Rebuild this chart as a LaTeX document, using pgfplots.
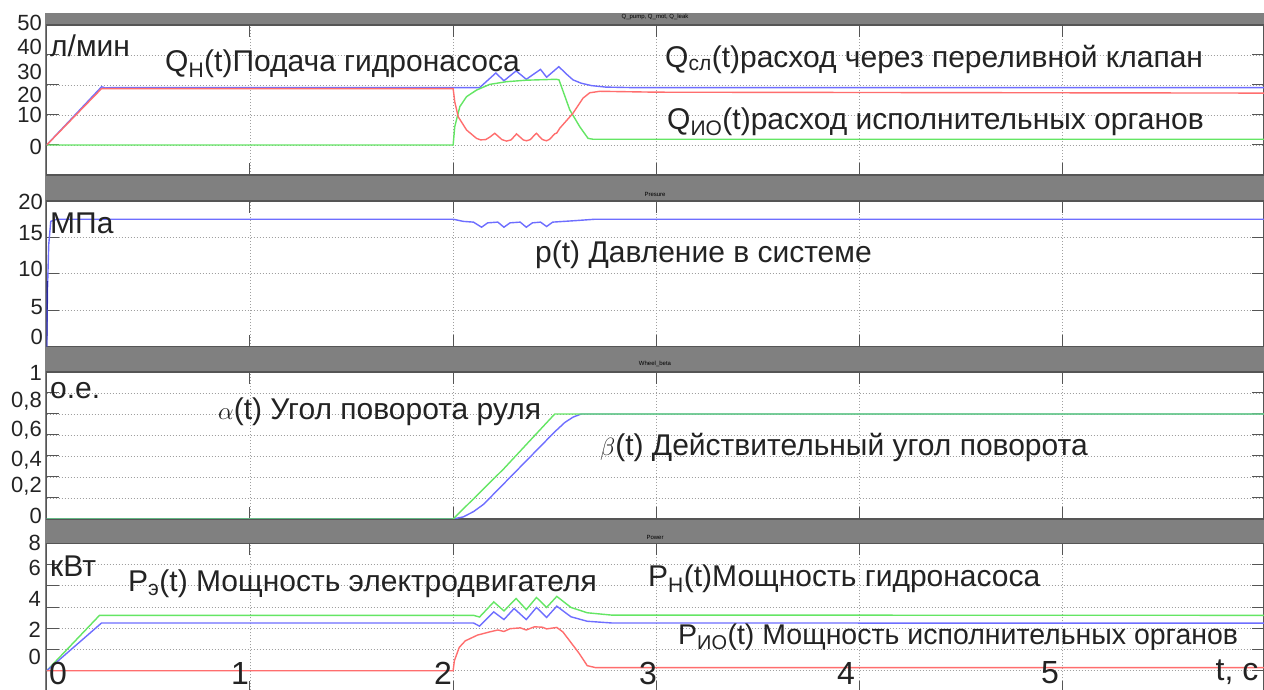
\documentclass[border=0pt]{standalone}
\usepackage{fontspec}
\setmainfont{Liberation Sans}
\usepackage{pgfplots}
\pgfplotsset{compat=1.18}
\definecolor{lblue}{RGB}{110,110,255}
\definecolor{dblue}{RGB}{40,40,160}
\definecolor{lred}{RGB}{255,110,110}
\definecolor{lgreen}{RGB}{100,230,100}
\definecolor{band}{RGB}{128,128,128}
\definecolor{txt}{RGB}{35,35,35}
\definecolor{frame}{RGB}{85,85,85}
\pgfplotsset{panel/.style={anchor=north west, scale only axis, width=1217.3pt,
  xmin=0, xmax=5.99, xtick={1,2,3,4,5}, xticklabels={}, yticklabels={},
  grid=major, grid style={gray!75, dash pattern=on 1pt off 2pt, line width=0.8pt},
  tick align=inside, major tick length=12pt, tick style={frame, line width=1pt},
  axis line style={frame, line width=1.5pt}, axis background/.style={fill=white},
  every axis plot/.append style={no marks, line width=1.4pt}}}
\newcommand{\ann}{\fontsize{30}{32}\selectfont}
\newcommand{\tl}{\fontsize{22}{23}\selectfont}
\newcommand{\xl}{\fontsize{32}{33}\selectfont}
\newcommand{\ttl}{\fontsize{6}{7}\selectfont}
\begin{document}
\begin{tikzpicture}[x=1pt,y=1pt]
\useasboundingbox (0,0) rectangle (1264,690);
\fill[band] (45,0) rectangle (1266,676.7);
% Panel 1: flows
\begin{axis}[panel, at={(46.7pt,665pt)}, height=150pt, ymin=-10, ymax=40, ytick={0,10,20,30}]
\addplot[lblue] coordinates {(0,0) (0.27,19.4) (0.29,19.0) (0.31,19.1) (2.13,19.1) (2.21,24.0) (2.25,21.4) (2.31,24.7) (2.36,21.9) (2.43,25.2) (2.46,22.6) (2.52,26.1) (2.56,23.5) (2.59,21.7) (2.63,20.6) (2.68,19.8) (2.75,19.3) (2.9,19.1) (5.99,19.1)};
\addplot[lgreen] coordinates {(0,0) (2.0,0) (2.008,6.1) (2.033,12.8) (2.066,16.1) (2.115,18.3) (2.18,20.2) (2.263,21.1) (2.361,21.6) (2.508,21.9) (2.521,21.7) (2.574,11.7) (2.623,6.1) (2.664,2.2) (2.69,1.9) (5.99,1.9)};
\addplot[lred] coordinates {(0,0) (0.27,18.8) (2.0,18.8) (2.008,14.4) (2.025,9.4) (2.066,5.0) (2.115,2.2) (2.135,1.7) (2.16,1.8) (2.18,2.6) (2.205,3.9) (2.22,3.0) (2.24,1.8) (2.263,1.3) (2.285,1.7) (2.3,2.8) (2.312,3.7) (2.33,2.6) (2.345,1.7) (2.361,1.4) (2.38,1.8) (2.395,2.9) (2.41,3.9) (2.425,2.8) (2.44,1.8) (2.459,1.4) (2.475,1.9) (2.49,3.0) (2.5,3.7) (2.51,4.0) (2.525,5.6) (2.59,10.6) (2.639,15.6) (2.672,17.4) (2.722,17.9) (3.0,17.6) (5.99,17.3)};
\end{axis}
% Panel 2: pressure
\begin{axis}[panel, at={(46.7pt,489pt)}, height=145.7pt, ymin=0, ymax=20, ytick={5,10,15}]
\addplot[lblue] coordinates {(0,0) (0.004,8) (0.01,14) (0.02,17.2) (0.05,17.5) (2.0,17.5) (2.05,17.2) (2.1,17.1) (2.14,16.4) (2.17,17.0) (2.22,17.1) (2.25,16.4) (2.28,17.0) (2.33,17.1) (2.36,16.4) (2.39,17.0) (2.43,17.1) (2.46,16.5) (2.49,17.1) (2.6,17.3) (2.7,17.5) (5.99,17.5)};
\addplot[dblue] coordinates {(0,0) (0.003,9)};
\end{axis}
% Panel 3: steering
\begin{axis}[panel, at={(46.7pt,318pt)}, height=147pt, ymin=0, ymax=1.4, ytick={0.2,0.4,0.6,0.8,1.0,1.2}]
\addplot[lblue] coordinates {(0,0) (2.0,0) (2.05,0.02) (2.1,0.07) (2.15,0.14) (2.5,0.83) (2.55,0.92) (2.59,0.97) (2.63,1.0) (5.99,1.0)};
\addplot[lgreen] coordinates {(0,0) (2.0,0) (2.25,0.48) (2.5,1.0) (5.99,1.0)};
\end{axis}
% Panel 4: power
\begin{axis}[panel, at={(46.7pt,146.7pt)}, height=150pt, ymin=-1.06, ymax=6, ytick={0,1,2,3,4,5}]
\addplot[lgreen] coordinates {(0,0) (0.26,2.61) (2.1,2.61) (2.13,2.53) (2.2,3.24) (2.25,2.82) (2.31,3.4) (2.36,2.88) (2.41,3.45) (2.46,2.98) (2.51,3.5) (2.58,2.98) (2.66,2.73) (2.78,2.62) (5.99,2.61)};
\addplot[lblue] coordinates {(0,0) (0.27,2.25) (2.1,2.25) (2.13,2.1) (2.2,2.77) (2.25,2.41) (2.3,2.93) (2.36,2.41) (2.41,2.98) (2.46,2.51) (2.51,3.04) (2.58,2.54) (2.66,2.33) (2.78,2.25) (5.99,2.24)};
\addplot[lred] coordinates {(0,0) (2.0,0) (2.006,0.47) (2.03,1.1) (2.06,1.41) (2.12,1.68) (2.18,1.83) (2.22,1.92) (2.25,1.85) (2.28,1.98) (2.33,2.02) (2.36,1.92) (2.4,2.07) (2.44,2.05) (2.46,1.97) (2.51,2.04) (2.54,1.83) (2.62,0.82) (2.66,0.24) (2.7,0.15) (5.99,0.15)};
\end{axis}
% tiny titles
\node[font=\ttl, text=black] at (655,673) {Q\_pump, Q\_mot, Q\_leak};
\node[font=\ttl, text=black] at (655,496) {Presure};
\node[font=\ttl, text=black] at (655,326) {Wheel\_beta};
\node[font=\ttl, text=black] at (655,153) {Power};
% y labels
\begin{scope}[every node/.style={anchor=east, inner sep=0pt, font=\tl, text=txt}]
\node at (42,667) {50}; \node at (42,643) {40}; \node at (42,618) {30};
\node at (42,595) {20}; \node at (42,575) {10}; \node at (42,543) {0};
\node at (43,488.3) {20}; \node at (43,456.7) {15}; \node at (43,420.7) {10};
\node at (43,383.3) {5}; \node at (43,353.3) {0};
\node at (42,317.3) {1}; \node at (42,288.3) {0,8}; \node at (42,260) {0,6};
\node at (42,230) {0,4}; \node at (42,203.3) {0,2}; \node at (42,174) {0};
\node at (41,147.3) {8}; \node at (41,122.3) {6}; \node at (41,91) {4};
\node at (41,60) {2}; \node at (41,33.3) {0};
\end{scope}
% x labels
\begin{scope}[every node/.style={inner sep=0pt, font=\xl, text=txt}]
\node at (58,17) {0}; \node at (240,17) {1}; \node at (443,17) {2};
\node at (648,17) {3}; \node at (846,17) {4}; \node at (1050,17) {5};
\node at (1237,18) {t, c};
\end{scope}
% annotations
\begin{scope}[every node/.style={anchor=west, inner sep=0pt, font=\ann, text=txt}]
\node at (50,644) {л/мин};
\node at (165,626) {Q\textsubscript{Н}(t)Подача гидронасоса};
\node at (665,631) {Q\textsubscript{сл}(t)расход через переливной клапан};
\node at (667,568) {Q\textsubscript{ИО}(t)расход исполнительных органов};
\node at (50,467) {МПа};
\node at (535,435) {p(t) Давление в системе};
\node at (50,299) {о.е.};
\node at (218,278) {$\alpha$(t) Угол поворота руля};
\node at (600,243) {$\beta$(t) Действительный угол поворота};
\node at (50,124) {кВт};
\node at (128,106) {P\textsubscript{э}(t) Мощность электродвигателя};
\node at (648,111) {P\textsubscript{Н}(t)Мощность гидронасоса};
\node[font=\fontsize{28.5}{30}\selectfont] at (678,53) {P\textsubscript{ИО}(t) Мощность исполнительных органов};
\end{scope}
\end{tikzpicture}
\end{document}
